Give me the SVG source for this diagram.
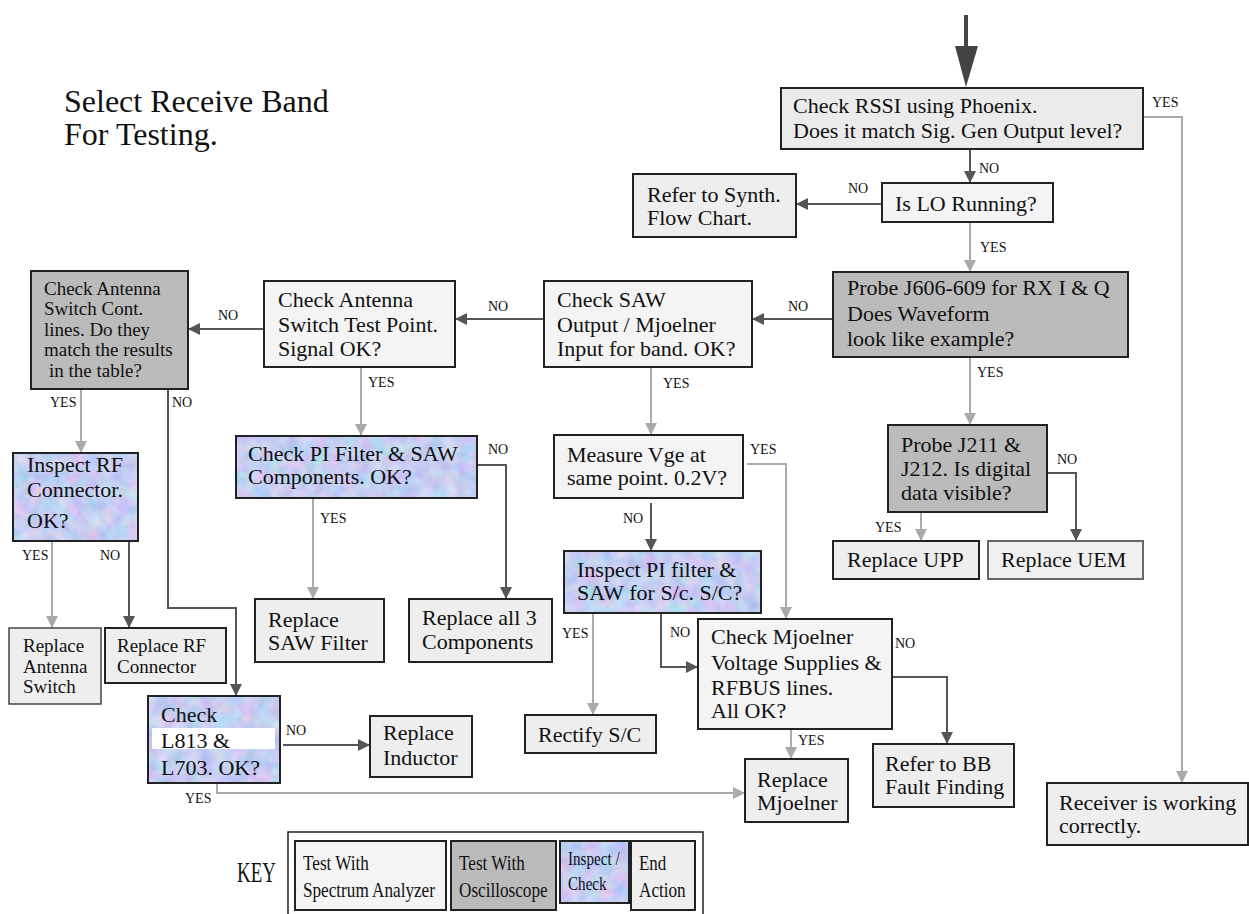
<svg xmlns="http://www.w3.org/2000/svg" width="1249" height="914" viewBox="0 0 1249 914">
<style>
.t{font-family:"Liberation Serif","Times New Roman",serif;font-size:22px;fill:#111}
.m{font-family:"Liberation Serif","Times New Roman",serif;font-size:19px;fill:#111}
.s{font-family:"Liberation Serif","Times New Roman",serif;font-size:14px;fill:#111}
.b{stroke:#222;stroke-width:2}
.lt{fill:#f4f4f4}
.gr{fill:#eeeeee}
.dk{fill:#bbbbbb}
.nd{fill:none;stroke:#555;stroke-width:2;marker-end:url(#ad)}
.yl{fill:none;stroke:#aaa;stroke-width:2;marker-end:url(#al)}
.nd0{fill:none;stroke:#555;stroke-width:2}
.yl0{fill:none;stroke:#aaa;stroke-width:2}
</style>
<defs>
<marker id="ad" viewBox="0 0 12 12" refX="12" refY="6" markerWidth="12" markerHeight="12" markerUnits="userSpaceOnUse" orient="auto"><path d="M0,0L12,6L0,12z" fill="#555"/></marker>
<marker id="al" viewBox="0 0 12 12" refX="12" refY="6" markerWidth="12" markerHeight="12" markerUnits="userSpaceOnUse" orient="auto"><path d="M0,0L12,6L0,12z" fill="#aaa"/></marker>
<filter id="mottle" x="0" y="0" width="100%" height="100%" color-interpolation-filters="sRGB">
<feTurbulence type="fractalNoise" baseFrequency="0.07" numOctaves="3" seed="7" result="n"/>
<feColorMatrix in="n" type="matrix" values="0.35 0 0 0 0.6  0 0.22 0 0 0.7  0 0 0.1 0 0.9  0 0 0 0 1" result="c"/>
<feComposite in="c" in2="SourceGraphic" operator="in"/>
</filter>
</defs>
<rect width="1249" height="914" fill="#fff"/>

<text class="t" style="font-size:32px" x="64" y="112">Select Receive Band</text>
<text class="t" style="font-size:32px" x="64" y="145">For Testing.</text>

<g id="connectors">
<path d="M966,15V50" stroke="#444" stroke-width="4" fill="none"/>
<path d="M955,46L978,46L966,87z" fill="#444"/>
<path class="yl0" d="M1143,117H1182V771"/>
<path class="yl" d="M1182,760V783"/>
<path class="nd" d="M970,149V183"/>
<path class="nd" d="M882,204H796"/>
<path class="yl" d="M970,222V272"/>
<path class="nd" d="M833,319H752"/>
<path class="nd" d="M544,319H455"/>
<path class="nd" d="M264,329H188"/>
<path class="yl" d="M81,389V453"/>
<path class="nd" d="M168,389V608H236V696"/>
<path class="yl" d="M361,367V436"/>
<path class="yl" d="M52,541V628"/>
<path class="nd" d="M129,541V628"/>
<path class="nd" d="M283,745H370"/>
<path class="yl" d="M217,783V793H745"/>
<path class="nd" d="M477,465H506V599"/>
<path class="yl" d="M313,498V599"/>
<path class="yl" d="M651,367V435"/>
<path class="nd" d="M651,503V551"/>
<path class="yl" d="M747,464H786V619"/>
<path class="yl" d="M593,613V715"/>
<path class="nd" d="M661,610V667H698"/>
<path class="nd" d="M892,677H947V744"/>
<path class="yl" d="M791,725V759"/>
<path class="yl" d="M970,357V425"/>
<path class="nd" d="M1047,473H1076V541"/>
<path class="yl" d="M921,512V541"/>
<text class="s" x="1152" y="107">YES</text>
<text class="s" x="979" y="173">NO</text>
<text class="s" x="848" y="193">NO</text>
<text class="s" x="980" y="252">YES</text>
<text class="s" x="788" y="311">NO</text>
<text class="s" x="488" y="311">NO</text>
<text class="s" x="218" y="320">NO</text>
<text class="s" x="50" y="407">YES</text>
<text class="s" x="172" y="407">NO</text>
<text class="s" x="368" y="387">YES</text>
<text class="s" x="663" y="388">YES</text>
<text class="s" x="977" y="377">YES</text>
<text class="s" x="488" y="454">NO</text>
<text class="s" x="750" y="454">YES</text>
<text class="s" x="1057" y="464">NO</text>
<text class="s" x="320" y="523">YES</text>
<text class="s" x="623" y="523">NO</text>
<text class="s" x="875" y="532">YES</text>
<text class="s" x="22" y="560">YES</text>
<text class="s" x="100" y="560">NO</text>
<text class="s" x="562" y="638">YES</text>
<text class="s" x="670" y="637">NO</text>
<text class="s" x="895" y="648">NO</text>
<text class="s" x="286" y="735">NO</text>
<text class="s" x="798" y="745">YES</text>
<text class="s" x="185" y="803">YES</text>
</g>

<g id="rssi"><rect class="b" x="781" y="88" width="362" height="61" fill="#ebebeb"/>
<text class="t" x="793" y="113">Check RSSI using Phoenix.</text>
<text class="t" x="793" y="138">Does it match Sig. Gen Output level?</text></g>

<g id="lo"><rect class="b lt" x="882" y="183" width="171" height="39"/>
<text class="t" x="895" y="211">Is LO Running?</text></g>

<g id="synth"><rect class="b gr" x="633" y="174" width="163" height="63"/>
<text class="t" x="647" y="202">Refer to Synth.</text>
<text class="t" x="647" y="225">Flow Chart.</text></g>

<g id="probe606"><rect class="b dk" x="833" y="272" width="295" height="85"/>
<text class="t" x="847" y="295">Probe J606-609 for RX I &amp; Q</text>
<text class="t" x="847" y="321">Does Waveform</text>
<text class="t" x="847" y="346">look like example?</text></g>

<g id="saw"><rect class="b lt" x="544" y="281" width="208" height="86"/>
<text class="t" x="557" y="307">Check SAW</text>
<text class="t" x="557" y="332">Output / Mjoelner</text>
<text class="t" x="557" y="356">Input for band. OK?</text></g>

<g id="anttp"><rect class="b lt" x="264" y="281" width="191" height="86"/>
<text class="t" x="278" y="307">Check Antenna</text>
<text class="t" x="278" y="332">Switch Test Point.</text>
<text class="t" x="278" y="356">Signal OK?</text></g>

<g id="antcont"><rect class="b dk" x="31" y="271" width="157" height="118"/>
<text class="m" x="44" y="295">Check Antenna</text>
<text class="m" x="44" y="315">Switch Cont.</text>
<text class="m" x="44" y="336">lines. Do they</text>
<text class="m" x="44" y="356">match the results</text>
<text class="m" x="49" y="377">in the table?</text></g>

<g id="inspectrf"><rect x="13" y="453" width="125" height="88" filter="url(#mottle)"/><rect class="b" x="13" y="453" width="125" height="88" fill="none"/>
<text class="t" x="27" y="472">Inspect RF</text>
<text class="t" x="27" y="497">Connector.</text>
<text class="t" x="27" y="528">OK?</text></g>

<g id="pifilter"><rect x="236" y="436" width="241" height="62" filter="url(#mottle)"/><rect class="b" x="236" y="436" width="241" height="62" fill="none"/>
<text class="t" x="248" y="461">Check PI Filter &amp; SAW</text>
<text class="t" x="248" y="484">Components. OK?</text></g>

<g id="vge"><rect class="b lt" x="554" y="435" width="189" height="63"/>
<text class="t" x="567" y="462">Measure Vge at</text>
<text class="t" x="567" y="485">same point. 0.2V?</text></g>

<g id="probe211"><rect class="b dk" x="888" y="425" width="159" height="87"/>
<text class="t" x="901" y="452">Probe J211 &amp;</text>
<text class="t" x="901" y="476">J212. Is digital</text>
<text class="t" x="901" y="500">data visible?</text></g>

<g id="upp"><rect class="b gr" x="833" y="541" width="146" height="38"/>
<text class="t" x="847" y="567">Replace UPP</text></g>

<g id="uem"><rect x="988" y="541" width="155" height="38" fill="#f0f0f0" stroke="#666" stroke-width="2"/>
<text class="t" x="1001" y="567">Replace UEM</text></g>

<g id="inspectpi"><rect x="564" y="551" width="197" height="62" filter="url(#mottle)"/><rect class="b" x="564" y="551" width="197" height="62" fill="none"/>
<text class="t" x="577" y="577">Inspect PI filter &amp;</text>
<text class="t" x="577" y="600">SAW for S/c. S/C?</text></g>

<g id="repsaw"><rect class="b gr" x="255" y="599" width="129" height="63"/>
<text class="t" x="268" y="627">Replace</text>
<text class="t" x="268" y="650">SAW Filter</text></g>

<g id="rep3"><rect class="b gr" x="409" y="599" width="143" height="63"/>
<text class="t" x="422" y="625">Replace all 3</text>
<text class="t" x="422" y="649">Components</text></g>

<g id="repant"><rect class="gr" x="9" y="628" width="92" height="76" stroke="#444" stroke-width="1.5"/>
<text class="m" x="23" y="652">Replace</text>
<text class="m" x="23" y="673">Antenna</text>
<text class="m" x="23" y="693">Switch</text></g>

<g id="reprf"><rect class="b gr" x="105" y="628" width="121" height="55"/>
<text class="m" x="117" y="652">Replace RF</text>
<text class="m" x="117" y="673">Connector</text></g>

<g id="mjcheck"><rect class="b lt" x="698" y="619" width="194" height="110"/>
<text class="t" x="711" y="644">Check Mjoelner</text>
<text class="t" x="711" y="670">Voltage Supplies &amp;</text>
<text class="t" x="711" y="695">RFBUS lines.</text>
<text class="t" x="711" y="718">All OK?</text></g>

<g id="l813"><rect x="148" y="696" width="132" height="87" filter="url(#mottle)"/><rect class="b" x="148" y="696" width="132" height="87" fill="none"/>
<rect x="152" y="728" width="123" height="21" fill="#fff"/>
<text class="t" x="161" y="722">Check</text>
<text class="t" x="161" y="748">L813 &amp;</text>
<text class="t" x="161" y="775">L703. OK?</text></g>

<g id="inductor"><rect class="b gr" x="370" y="716" width="102" height="61"/>
<text class="t" x="383" y="740">Replace</text>
<text class="t" x="383" y="765">Inductor</text></g>

<g id="rectify"><rect class="b gr" x="525" y="715" width="131" height="38"/>
<text class="t" x="538" y="742">Rectify S/C</text></g>

<g id="bb"><rect class="b gr" x="873" y="744" width="141" height="63"/>
<text class="t" x="885" y="771">Refer to BB</text>
<text class="t" x="885" y="794">Fault Finding</text></g>

<g id="repmj"><rect class="b gr" x="745" y="759" width="103" height="63"/>
<text class="t" x="757" y="787">Replace</text>
<text class="t" x="757" y="810">Mjoelner</text></g>

<g id="receiver"><rect class="b gr" x="1047" y="783" width="201" height="62"/>
<text class="t" x="1059" y="810">Receiver is working</text>
<text class="t" x="1059" y="833">correctly.</text></g>

<g id="key">
<text class="t" style="font-size:30px" transform="translate(237,882) scale(0.63,1)">KEY</text>
<rect x="288" y="832" width="415" height="90" fill="none" stroke="#222" stroke-width="1.5"/>
<rect class="b lt" x="295" y="841" width="151" height="69"/>
<text class="t" transform="translate(303,870) scale(0.78,1)">Test With</text>
<text class="t" transform="translate(303,897) scale(0.78,1)">Spectrum Analyzer</text>
<rect class="b dk" x="451" y="841" width="105" height="69"/>
<text class="t" transform="translate(459,870) scale(0.78,1)">Test With</text>
<text class="t" transform="translate(459,897) scale(0.78,1)">Oscilloscope</text>
<rect x="560" y="841" width="69" height="62" filter="url(#mottle)"/><rect class="b" x="560" y="841" width="69" height="62" fill="none"/>
<text class="t" style="font-size:18px" transform="translate(568,865) scale(0.84,1)">Inspect /</text>
<text class="t" style="font-size:18px" transform="translate(568,890) scale(0.84,1)">Check</text>
<rect class="b gr" x="631" y="841" width="64" height="69"/>
<text class="t" transform="translate(639,870) scale(0.77,1)">End</text>
<text class="t" transform="translate(639,897) scale(0.78,1)">Action</text>
</g>
</svg>
